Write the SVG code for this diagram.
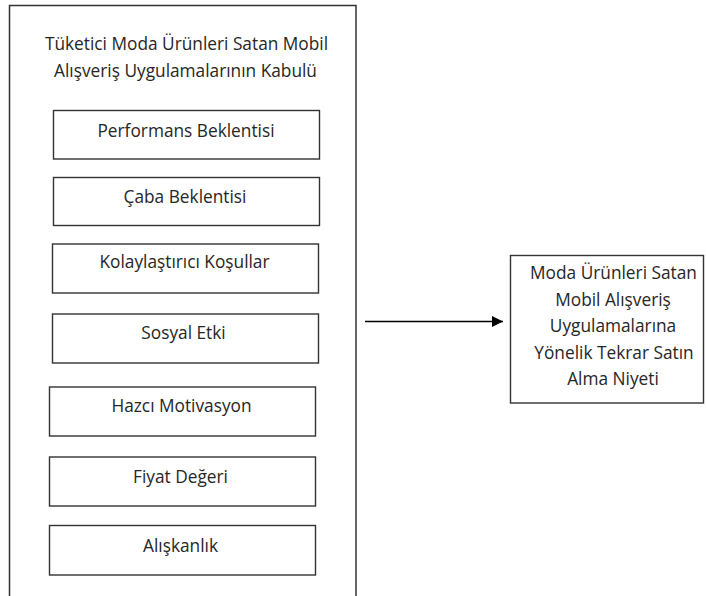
<svg xmlns="http://www.w3.org/2000/svg" width="706" height="596" viewBox="0 0 706 596">
<style>
.box{fill:#fff;stroke:#333;stroke-width:1.4}
.t{font-family:"Open Sans","Noto Sans","Liberation Sans",sans-serif;font-size:17.3px;fill:#262626;text-anchor:middle}
.conn{stroke:#000;stroke-width:1.4;fill:none}
</style>
<defs>
<marker id="arr" viewBox="0 0 10 10" refX="10" refY="5" markerWidth="11" markerHeight="11" markerUnits="userSpaceOnUse" orient="auto">
<path d="M0,0 L10,5 L0,10 z" fill="#000"/>
</marker>
</defs>
<rect width="706" height="596" fill="#fff"/>
<g id="outer">
<rect class="box" x="9.5" y="5.5" width="346.5" height="600" style="stroke-width:1.5"/>
<text class="t" x="186.5" y="50">Tüketici Moda Ürünleri Satan Mobil</text>
<text class="t" x="185.5" y="77">Alışveriş Uygulamalarının Kabulü</text>
</g>
<g id="performans">
<rect class="box" x="53.5" y="110.5" width="266" height="48.5"/>
<text class="t" x="186" y="137">Performans Beklentisi</text>
</g>
<g id="caba">
<rect class="box" x="53.5" y="177.5" width="266" height="48"/>
<text class="t" x="185" y="203">Çaba Beklentisi</text>
</g>
<g id="kolaylastirici">
<rect class="box" x="52.5" y="244" width="266" height="49"/>
<text class="t" x="184.5" y="268">Kolaylaştırıcı Koşullar</text>
</g>
<g id="sosyal">
<rect class="box" x="52.5" y="314" width="266" height="49"/>
<text class="t" x="183.5" y="339">Sosyal Etki</text>
</g>
<g id="hazci">
<rect class="box" x="49.5" y="387" width="266" height="49"/>
<text class="t" x="181.5" y="412">Hazcı Motivasyon</text>
</g>
<g id="fiyat">
<rect class="box" x="49.5" y="457" width="266" height="49"/>
<text class="t" x="180.5" y="483">Fiyat Değeri</text>
</g>
<g id="aliskanlik">
<rect class="box" x="49.5" y="525.5" width="266" height="49.5"/>
<text class="t" x="180.5" y="552">Alışkanlık</text>
</g>
<g id="niyet">
<rect class="box" x="510.5" y="255.5" width="193" height="147.5"/>
<text class="t" x="613.5" y="279">Moda Ürünleri Satan</text>
<text class="t" x="613" y="305.5">Mobil Alışveriş</text>
<text class="t" x="613" y="332">Uygulamalarına</text>
<text class="t" x="614" y="358.5">Yönelik Tekrar Satın</text>
<text class="t" x="613" y="385">Alma Niyeti</text>
</g>
<g id="connectors">
<line class="conn" x1="365" y1="321.5" x2="503" y2="321.5" marker-end="url(#arr)"/>
</g>
</svg>
